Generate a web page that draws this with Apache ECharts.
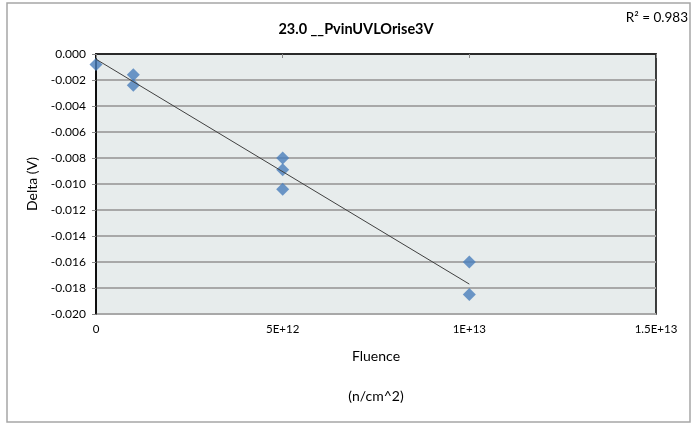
<!DOCTYPE html>
<html>
<head>
<meta charset="utf-8">
<script src="https://cdn.jsdelivr.net/npm/echarts@6/dist/echarts.min.js"></script>
<style>html,body{margin:0;padding:0;background:#fff}#c{width:694px;height:424px}</style>
</head>
<body>
<div id="c"></div>
<script>
// Data
const fluence = [0, 1e12, 1e12, 5e12, 5e12, 5e12, 1e13, 1e13];
const delta   = [-0.0008, -0.0016, -0.0024, -0.0080, -0.0089, -0.0104, -0.0160, -0.0185];
const trendX  = [0, 1e13];
const trendY  = [-0.0004, -0.0177];
const xTickValues = [0, 5e12, 1e13, 1.5e13];
const xTickLabels = ['0', '5E+12', '1E+13', '1.5E+13'];
const titleText = '23.0 __PvinUVLOrise3V';
const r2Text = 'R\u00B2 = 0.983';

const FONT = 'Lato, "Open Sans", sans-serif';
const chart = echarts.init(document.getElementById('c'), null, {renderer: 'canvas'});
chart.setOption({
  animation: false,
  backgroundColor: '#fff',
  title: {
    text: titleText, left: 351, top: 17, textAlign: 'center',
    textStyle: {fontFamily: FONT, fontSize: 14.5, fontWeight: 'bold', color: '#000'}
  },
  graphic: [
    {type: 'rect', shape: {x: 7, y: 3, width: 683, height: 419}, style: {fill: 'none', stroke: '#A6A6A6', lineWidth: 1.5}, silent: true, z: -1},
    {type: 'text', right: 6, top: 11, style: {text: r2Text, font: '13.5px ' + FONT, fill: '#000'}}
  ],
  grid: {left: 96, top: 54, width: 560, height: 260, show: true, backgroundColor: '#E7ECEC', borderColor: '#000', borderWidth: 1.5},
  xAxis: {
    type: 'value', min: 0, max: 1.5e13, interval: 5e12,
    name: 'Fluence\n\n(n/cm^2)', nameLocation: 'middle', nameGap: 32,
    nameTextStyle: {fontFamily: FONT, fontSize: 14, color: '#000', lineHeight: 20, verticalAlign: 'top'},
    axisLine: {show: true, lineStyle: {color: '#000', width: 1.5}},
    axisTick: {show: true, length: 4, lineStyle: {color: '#888'}},
    splitLine: {show: false},
    axisLabel: {
      fontFamily: FONT, fontSize: 11.5, color: '#000', margin: 9,
      formatter: v => { const i = xTickValues.indexOf(v); return i >= 0 ? xTickLabels[i] : ''; }
    }
  },
  yAxis: {
    type: 'value', min: -0.02, max: 0, interval: 0.002,
    name: 'Delta (V)', nameLocation: 'middle', nameGap: 52, nameRotate: 90,
    nameTextStyle: {fontFamily: FONT, fontSize: 14, color: '#000'},
    axisLine: {show: true, lineStyle: {color: '#000', width: 1.5}},
    axisTick: {show: true, length: 4, lineStyle: {color: '#888'}},
    splitLine: {show: true, lineStyle: {color: '#A8A8A8', width: 2}},
    axisLabel: {fontFamily: FONT, fontSize: 12, color: '#000', margin: 10, formatter: v => v.toFixed(3)}
  },
  series: [
    {
      type: 'line', data: trendX.map((x, i) => [x, trendY[i]]),
      showSymbol: false, symbol: 'none', lineStyle: {color: '#404040', width: 1}, z: 3
    },
    {
      type: 'scatter', data: fluence.map((x, i) => [x, delta[i]]),
      symbol: 'diamond', symbolSize: [13, 13], itemStyle: {color: '#4A7EBB'}, z: 2
    }
  ]
});
</script>
</body>
</html>
